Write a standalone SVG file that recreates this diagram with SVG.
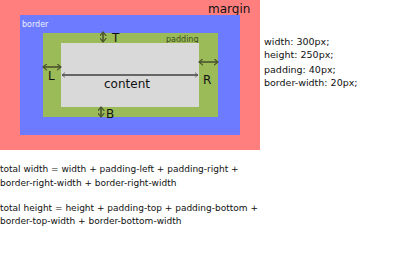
<svg xmlns="http://www.w3.org/2000/svg" width="417" height="262" viewBox="0 0 417 262">
  <style>
    text { font-family: "Comic Sans MS", "DejaVu Sans", sans-serif; fill: #111; }
    .lbl { font-size: 12px; }
    .small { font-size: 8px; }
    .note { font-size: 9.5px; }
    .formula { font-size: 9px; }
    .dim { stroke: #4a532c; stroke-width: 1.6; fill: none; }
    .main { stroke: #666; stroke-width: 2; fill: none; }
  </style>
  <defs>
    <marker id="chev" viewBox="0 0 6 8" refX="5" refY="4" markerWidth="5" markerHeight="7" orient="auto-start-reverse" markerUnits="userSpaceOnUse">
      <path d="M0,0 L5,4 L0,8" fill="none" stroke="#4a532c" stroke-width="1.4"/>
    </marker>
    <marker id="chevGray" viewBox="0 0 6 8" refX="5" refY="4" markerWidth="4" markerHeight="7" orient="auto-start-reverse" markerUnits="userSpaceOnUse">
      <path d="M0,0 L5,4 L0,8" fill="none" stroke="#555" stroke-width="1.2"/>
    </marker>
  </defs>
  <rect width="417" height="262" fill="#ffffff"/>

  <!-- box model layers -->
  <g id="margin">
    <rect x="0" y="0" width="260" height="150" fill="#ff7f7f"/>
    <text class="lbl" x="208" y="13">margin</text>
  </g>
  <g id="border">
    <rect x="20" y="15" width="220" height="120" fill="#6c7bff"/>
    <text class="small" x="22" y="27" style="fill:#eef0ff">border</text>
  </g>
  <g id="padding">
    <rect x="43" y="33" width="175" height="84" fill="#9bbb59"/>
    <text class="small" x="166" y="42" style="fill:#3d4a22">padding</text>
  </g>
  <g id="content">
    <rect x="61" y="43" width="138" height="64" fill="#d9d9d9"/>
    <text class="lbl" x="104" y="88">content</text>
  </g>

  <!-- side labels -->
  <g id="label-T"><text class="lbl" x="112" y="42">T</text></g>
  <g id="label-B"><text class="lbl" x="106" y="118">B</text></g>
  <g id="label-L"><text class="lbl" x="48" y="80">L</text></g>
  <g id="label-R"><text class="lbl" x="203" y="84">R</text></g>

  <!-- dimension arrows -->
  <g id="connectors">
    <line class="dim" x1="103" y1="32" x2="103" y2="42" marker-start="url(#chev)" marker-end="url(#chev)"/>
    <line class="dim" x1="101" y1="107" x2="101" y2="117" marker-start="url(#chev)" marker-end="url(#chev)"/>
    <line class="dim" x1="43" y1="67" x2="61" y2="67" marker-start="url(#chev)" marker-end="url(#chev)"/>
    <line class="dim" x1="199" y1="62" x2="218" y2="62" marker-start="url(#chev)" marker-end="url(#chev)"/>
    <line class="main" x1="62" y1="75" x2="198" y2="75" marker-start="url(#chevGray)" marker-end="url(#chevGray)"/>
  </g>

  <!-- property values -->
  <g id="properties">
    <text class="note" x="264" y="45">width: 300px;</text>
    <text class="note" x="264" y="58">height: 250px;</text>
    <text class="note" x="264" y="73">padding: 40px;</text>
    <text class="note" x="264" y="86">border-width: 20px;</text>
  </g>

  <!-- totals -->
  <g id="formulas">
    <text class="formula" x="0" y="172">total width = width + padding-left + padding-right +</text>
    <text class="formula" x="0" y="186">border-right-width + border-right-width</text>
    <text class="formula" x="0" y="211">total height = height + padding-top + padding-bottom +</text>
    <text class="formula" x="0" y="224">border-top-width + border-bottom-width</text>
  </g>
</svg>
